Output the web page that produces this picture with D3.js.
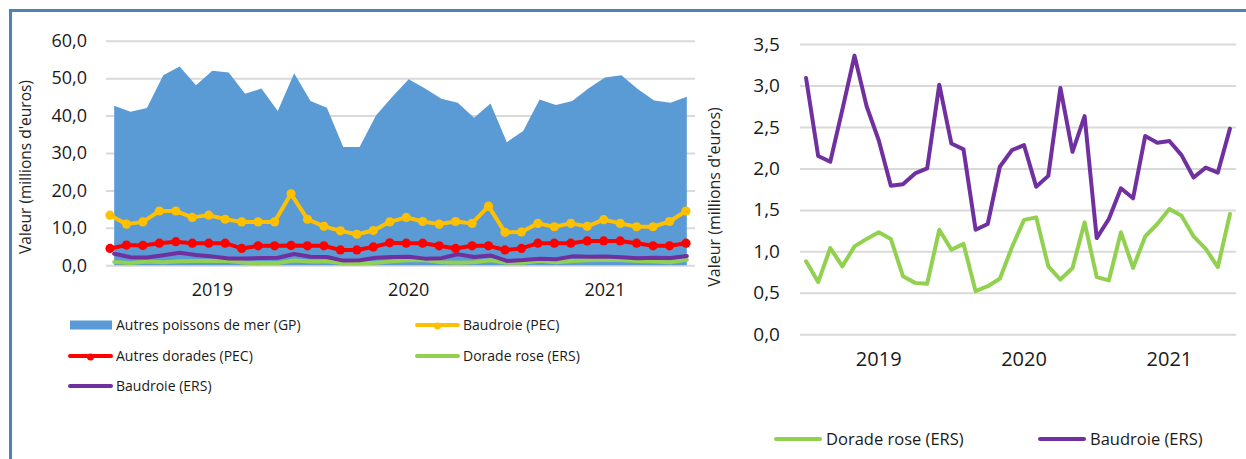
<!DOCTYPE html>
<html>
<head>
<meta charset="utf-8">
<script src="https://cdn.jsdelivr.net/npm/d3@7"></script>
<style>
    body { margin: 0; background: #fff; }
    text { font-family: "Open Sans", sans-serif; }
</style>
</head>
<body>
<div class="vis-fish"></div>
<script>
// months (Jul 2018 - Jun 2021), one point per month
const months = [
    "2018-07", "2018-08", "2018-09", "2018-10", "2018-11", "2018-12",
    "2019-01", "2019-02", "2019-03", "2019-04", "2019-05", "2019-06",
    "2019-07", "2019-08", "2019-09", "2019-10", "2019-11", "2019-12",
    "2020-01", "2020-02", "2020-03", "2020-04", "2020-05", "2020-06",
    "2020-07", "2020-08", "2020-09", "2020-10", "2020-11", "2020-12",
    "2021-01", "2021-02", "2021-03", "2021-04", "2021-05", "2021-06"
];
const yearLabels = ["2019", "2020", "2021"];
const leftTicks = [0, 10, 20, 30, 40, 50, 60];
const rightTicks = [0, 0.5, 1, 1.5, 2, 2.5, 3, 3.5];

// values in millions of euros
const autresPoissonsGP = [42.6, 41.0, 42.0, 50.8, 53.1, 48.1, 52.0, 51.5, 45.8, 47.2, 41.2, 51.3,
    43.9, 42.1, 31.6, 31.6, 40.0, 45.0, 49.7, 47.2, 44.5, 43.4, 39.4, 43.2,
    32.9, 35.9, 44.3, 42.8, 43.9, 47.3, 50.2, 50.8, 47.1, 44.0, 43.4, 45.0];
const baudroiePEC = [13.4, 11.0, 11.6, 14.5, 14.5, 12.8, 13.4, 12.3, 11.6, 11.6, 11.6, 19.1,
    12.3, 10.4, 9.2, 8.3, 9.3, 11.6, 12.8, 11.7, 11.0, 11.7, 11.2, 15.8,
    8.8, 8.9, 11.2, 10.3, 11.2, 10.4, 12.2, 11.2, 10.3, 10.3, 11.7, 14.5];
const autresDoradesPEC = [4.5, 5.4, 5.3, 5.9, 6.3, 5.9, 5.9, 5.9, 4.5, 5.2, 5.2, 5.3,
    5.2, 5.2, 4.1, 4.1, 4.9, 6.0, 5.9, 5.9, 5.2, 4.5, 5.2, 5.2,
    4.1, 4.5, 5.9, 5.9, 5.9, 6.5, 6.5, 6.5, 5.9, 5.2, 5.2, 5.9];
const doradeRoseERS = [0.88, 0.63, 1.04, 0.82, 1.06, 1.15, 1.23, 1.15, 0.70, 0.62, 0.61, 1.26,
    1.02, 1.09, 0.52, 0.58, 0.67, 1.05, 1.38, 1.41, 0.82, 0.66, 0.80, 1.35,
    0.69, 0.65, 1.23, 0.80, 1.18, 1.33, 1.51, 1.43, 1.18, 1.03, 0.81, 1.45];
const baudroieERS = [3.09, 2.15, 2.08, 2.71, 3.36, 2.75, 2.34, 1.79, 1.81, 1.94, 2.00, 3.01,
    2.30, 2.23, 1.26, 1.33, 2.02, 2.22, 2.28, 1.78, 1.91, 2.97, 2.20, 2.63,
    1.16, 1.39, 1.76, 1.64, 2.39, 2.31, 2.33, 2.16, 1.89, 2.01, 1.95, 2.48];

const Color = {
    AREA: "#5b9bd5",
    YELLOW: "#ffc000",
    RED: "#ff0000",
    GREEN: "#92d050",
    PURPLE: "#7030a0",
    GRID: "#d9d9d9",
    FRAME: "#4f81bd",
    TEXT: "#1a1a1a"
};

const fmt = d => d.toFixed(1).replace(".", ",");

const svg = d3.select(".vis-fish")
    .append("svg")
    .attr("width", 1246)
    .attr("height", 459);

// frame (top + left)
svg.append("path")
    .attr("d", "M10.5,459 L10.5,10.5 L1246,10.5")
    .attr("fill", "none")
    .attr("stroke", Color.FRAME)
    .attr("stroke-width", 3);

// gridlines + y labels
const drawYAxis = (g, y, ticks, x0, x1, pad, size) => {
    g.append("g")
        .attr("transform", "translate(" + x0 + ",0)")
        .call(d3.axisLeft(y).tickValues(ticks).tickSize(-(x1 - x0)).tickPadding(pad).tickFormat(fmt))
        .call(a => a.select(".domain").remove())
        .call(a => a.selectAll("line").attr("stroke", Color.GRID).attr("stroke-width", 2))
        .call(a => a.selectAll("text")
            .attr("fill", Color.TEXT)
            .style("font-family", "'Open Sans', sans-serif")
            .style("font-size", size + "px"));
};

const drawXAxis = (g, x, y0, pad, size) => {
    g.append("g")
        .attr("transform", "translate(0," + y0 + ")")
        .call(d3.axisBottom(x)
            .tickValues(yearLabels.map(d => d + "-01"))
            .tickFormat(d => d.slice(0, 4))
            .tickSize(0)
            .tickPadding(pad))
        .call(a => a.select(".domain").remove())
        .call(a => a.selectAll("text")
            .attr("fill", Color.TEXT)
            .style("font-family", "'Open Sans', sans-serif")
            .style("font-size", size + "px"));
};

const drawTitle = (g, cx, cy, size) => {
    g.append("text")
        .attr("transform", "translate(" + cx + "," + cy + ") rotate(-90)")
        .attr("text-anchor", "middle")
        .attr("dominant-baseline", "central")
        .attr("fill", "#262626")
        .style("font-size", size + "px")
        .text("Valeur (millions d'euros)");
};

const drawLine = (g, values, xf, y, color, width) => {
    g.append("path")
        .datum(values)
        .attr("fill", "none")
        .attr("stroke", color)
        .attr("stroke-width", width)
        .attr("stroke-linejoin", "round")
        .attr("stroke-linecap", "round")
        .attr("d", d3.line().x((d, i) => xf(months[i])).y(d => y(d)));
};

const drawMarkers = (g, values, xf, y, color) => {
    g.append("g")
        .selectAll("circle")
        .data(values)
        .enter()
        .append("circle")
        .attr("cx", (d, i) => xf(months[i]))
        .attr("cy", d => y(d))
        .attr("r", 4.6)
        .attr("fill", color);
};

// ---------- Left chart ----------
const left = svg.append("g");
const xL = d3.scaleBand().domain(months).range([106, 695]);
const xLc = m => xL(m) + xL.bandwidth() / 2;
// the PEC series sit on a slightly narrower axis in the source
const xP = d3.scalePoint().domain(months).range([110, 686]);
const yL = d3.scaleLinear().domain([0, 60]).range([265.3, 40.7]);

drawYAxis(left, yL, leftTicks, 106, 695, 19, 18);
drawXAxis(left, xL, 265.3, 18, 18);
drawTitle(left, 25, 167, 15.5);

left.append("path")
    .datum(autresPoissonsGP)
    .attr("fill", Color.AREA)
    .attr("d", d3.area().x((d, i) => xLc(months[i])).y0(yL(0)).y1(d => yL(d)));

drawLine(left, doradeRoseERS, xLc, yL, Color.GREEN, 4);
drawLine(left, baudroieERS, xLc, yL, Color.PURPLE, 4);
drawLine(left, autresDoradesPEC, xP, yL, Color.RED, 4);
drawMarkers(left, autresDoradesPEC, xP, yL, Color.RED);
drawLine(left, baudroiePEC, xP, yL, Color.YELLOW, 4);
drawMarkers(left, baudroiePEC, xP, yL, Color.YELLOW);

// left legend
const legendLeft = [
    { name: "Autres poissons de mer (GP)", color: Color.AREA, type: "area", x: 68, y: 325 },
    { name: "Baudroie (PEC)", color: Color.YELLOW, type: "marker", x: 415, y: 325 },
    { name: "Autres dorades (PEC)", color: Color.RED, type: "marker", x: 68, y: 356 },
    { name: "Dorade rose (ERS)", color: Color.GREEN, type: "line", x: 415, y: 356 },
    { name: "Baudroie (ERS)", color: Color.PURPLE, type: "line", x: 68, y: 386 }
];
const item = left.selectAll(".legend")
    .data(legendLeft)
    .enter()
    .append("g")
    .attr("class", "legend")
    .attr("transform", d => "translate(" + d.x + "," + d.y + ")");
item.filter(d => d.type === "area")
    .append("rect")
    .attr("x", 2).attr("y", -4.5).attr("width", 42).attr("height", 9)
    .attr("fill", d => d.color);
item.filter(d => d.type !== "area")
    .append("line")
    .attr("x1", 2).attr("x2", 43).attr("y1", 0).attr("y2", 0)
    .attr("stroke", d => d.color).attr("stroke-width", 4).attr("stroke-linecap", "round");
item.filter(d => d.type === "marker")
    .append("circle")
    .attr("cx", 22.5).attr("cy", 1).attr("r", 3.5)
    .attr("fill", d => d.color);
item.append("text")
    .attr("x", 48)
    .attr("dy", "0.35em")
    .attr("fill", Color.TEXT)
    .style("font-size", "14px")
    .text(d => d.name);

// ---------- Right chart ----------
const right = svg.append("g");
const xR = d3.scaleBand().domain(months).range([800, 1236]);
const xRc = m => xR(m) + xR.bandwidth() / 2;
const yR = d3.scaleLinear().domain([0, 3.5]).range([334.3, 44]);

drawYAxis(right, yR, rightTicks, 800, 1236, 20, 19);
drawXAxis(right, xR, 334.3, 18, 20);
drawTitle(right, 714, 197, 16);

drawLine(right, doradeRoseERS, xRc, yR, Color.GREEN, 4);
drawLine(right, baudroieERS, xRc, yR, Color.PURPLE, 4);

// right legend
const legendRight = [
    { name: "Dorade rose (ERS)", color: Color.GREEN, x: 774 },
    { name: "Baudroie (ERS)", color: Color.PURPLE, x: 1038 }
];
const itemR = right.selectAll(".legend-r")
    .data(legendRight)
    .enter()
    .append("g")
    .attr("class", "legend-r")
    .attr("transform", d => "translate(" + d.x + ",439)");
itemR.append("line")
    .attr("x1", 2).attr("x2", 46).attr("y1", 0).attr("y2", 0)
    .attr("stroke", d => d.color).attr("stroke-width", 4).attr("stroke-linecap", "round");
itemR.append("text")
    .attr("x", 52)
    .attr("dy", "0.35em")
    .attr("fill", Color.TEXT)
    .style("font-size", "16.5px")
    .text(d => d.name);
</script>
</body>
</html>
